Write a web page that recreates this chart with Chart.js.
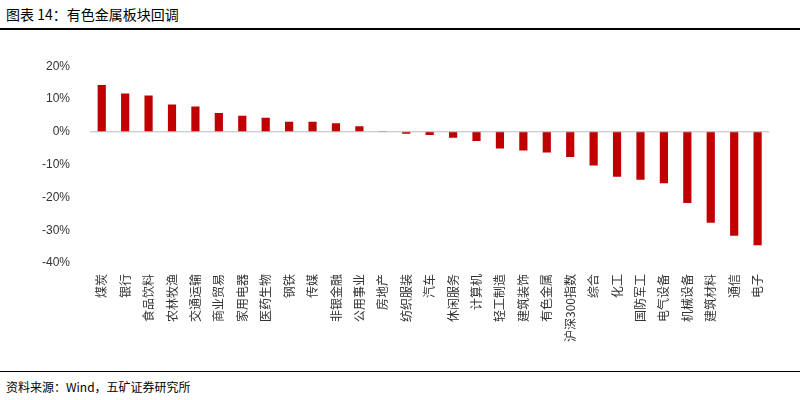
<!DOCTYPE html>
<html><head><meta charset="utf-8">
<script src="https://cdn.jsdelivr.net/npm/chart.js@4"></script>
<style>
body{margin:0;width:806px;height:400px;background:#fff;font-family:"Noto Sans CJK SC",sans-serif;position:relative;overflow:hidden}
#title{position:absolute;left:6px;top:4px;font-size:14px;color:#000}
#top{position:absolute;left:0;top:28px;width:800px;border-top:2px solid #000}
#bot{position:absolute;left:0;top:371px;width:800px;border-top:1.5px solid #000}
#src{position:absolute;left:6px;top:378px;font-size:12px;color:#000}
#wrap{position:absolute;left:30px;top:47px;width:745px;height:298px}
</style></head><body>
<div id="title">图表 14：有色金属板块回调</div>
<div id="top"></div>
<div id="wrap"><canvas id="c"></canvas></div>
<div id="bot"></div>
<div id="src">资料来源：Wind，五矿证券研究所</div>
<script>
// 行业分类
const categories = ['煤炭','银行','食品饮料','农林牧渔','交通运输','商业贸易','家用电器','医药生物','钢铁','传媒','非银金融','公用事业','房地产','纺织服装','汽车','休闲服务','计算机','轻工制造','建筑装饰','有色金属','沪深300指数','综合','化工','国防军工','电气设备','机械设备','建筑材料','通信','电子'];
// 涨跌幅 (%)
const values = [14.3,11.7,11.1,8.3,7.7,5.7,4.9,4.3,3.1,3.1,2.6,1.7,0.2,-0.6,-1.0,-1.8,-2.8,-5.1,-5.7,-6.3,-7.7,-10.3,-13.7,-14.6,-15.7,-21.7,-27.7,-31.7,-34.6];

new Chart(document.getElementById('c'), {
    type: 'bar',
    data: {
        labels: categories,
        datasets: [{ data: values, backgroundColor: '#c00000', barPercentage: 0.35, categoryPercentage: 1 }]
    },
    options: {
        responsive: true,
        maintainAspectRatio: false,
        animation: false,
        plugins: { legend: { display: false }, tooltip: { enabled: false } },
        scales: {
            x: {
                grid: { display: false },
                border: { display: false },
                ticks: { minRotation: 90, maxRotation: 90, autoSkip: false, color: '#333', font: { size: 12, family: 'Noto Sans CJK SC' } }
            },
            y: {
                min: -40, max: 20,
                grid: { display: false },
                border: { display: false },
                ticks: { stepSize: 10, color: '#333', font: { size: 12 }, padding: 12, callback: v => v + '%' }
            }
        }
    },
    plugins: [{
        id: 'zero',
        afterDatasetsDraw(chart) {
            const { ctx, chartArea, scales } = chart;
            const y = scales.y.getPixelForValue(0);
            ctx.save();
            ctx.strokeStyle = '#bbb';
            ctx.beginPath(); ctx.moveTo(chartArea.left, y); ctx.lineTo(chartArea.right, y); ctx.stroke();
            ctx.restore();
        }
    }]
});
</script>
</body></html>
